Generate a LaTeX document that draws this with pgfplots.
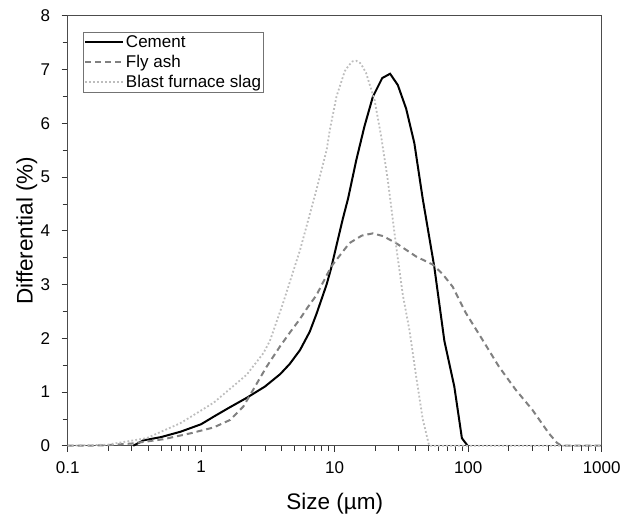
\documentclass[border=0pt]{standalone}
\usepackage{fontspec}
\setmainfont{Liberation Sans}
\usepackage{pgfplots}
\pgfplotsset{compat=1.18}

\definecolor{ashgray}{HTML}{808080}
\definecolor{slaggray}{HTML}{BDBDBD}

\begin{document}
\begin{tikzpicture}
\begin{axis}[
    at={(0,0)}, anchor=south west,
    scale only axis,
    width=534pt, height=430pt,
    xmode=log,
    xmin=0.1, xmax=1000,
    ymin=0, ymax=8,
    xtick={0.1,1,10,100,1000},
    xticklabels={0.1,1,10,100,1000},
    ytick={0,1,2,3,4,5,6,7,8},
    minor ytick={0.5,1.5,2.5,3.5,4.5,5.5,6.5,7.5},
    xtick pos=bottom, ytick pos=left,
    tick align=outside,
    major tick length=6pt, minor tick length=5pt,
    tick style={black!80, line width=0.6pt},
    axis line style={black!70, line width=0.8pt},
    /pgf/number format/assume math mode=true,
    tick label style={font=\fontsize{17}{19}\selectfont},
    xticklabel style={yshift=-6pt},
    yticklabel style={xshift=-8pt},
    label style={font=\fontsize{22.5}{26}\selectfont},
    xlabel={Size (µm)},
    ylabel={Differential (\%)},
    xlabel style={at={(axis description cs:0.5,-0.1349)}, anchor=center},
    ylabel style={at={(axis description cs:-0.0768,0.5)}, anchor=center},
    legend style={at={(axis description cs:0.0292,0.962)}, anchor=north west,
        draw=black!55, font=\fontsize{17}{20}\selectfont,
        inner xsep=1pt, inner ysep=2pt, row sep=3pt,
        nodes={inner sep=1.5pt}},
    legend cell align=left,
    legend image code/.code={\draw[#1] (0pt,0pt) -- (38pt,0pt);},
    clip=false,
]
\addplot[black, line width=2pt] coordinates {
    (0.31,0) (0.37,0.1) (0.5,0.16) (0.7,0.26) (1.0,0.4) (1.24,0.54)
    (1.6,0.7) (2.19,0.89) (3.0,1.1) (3.9,1.33) (4.6,1.52) (5.5,1.78)
    (6.5,2.12) (7.3,2.45) (8.7,3.0) (9.4,3.3) (10.3,3.72) (11.5,4.22)
    (12.6,4.6) (14.5,5.31) (16.7,5.94) (19.3,6.49) (22.7,6.84) (26,6.92)
    (29.7,6.71) (34.3,6.27) (39.5,5.63) (45.6,4.6) (55.7,3.33) (66.3,1.95)
    (78.7,1.1) (89.7,0.14) (99,0)
};
\addlegendentry{Cement}
\addplot[ashgray, line width=2pt, dash pattern=on 6pt off 4pt] coordinates {
    (0.1,0) (0.15,0) (0.2,0.01) (0.3,0.04) (0.52,0.12) (0.83,0.23)
    (1.24,0.34) (1.65,0.48) (2.07,0.73) (2.45,1.04) (3.09,1.47) (3.9,1.85)
    (4.6,2.1) (5.5,2.36) (6.3,2.58) (7.3,2.8) (9.4,3.33) (12.9,3.77)
    (16,3.91) (19.3,3.95) (23,3.9) (28.8,3.77) (40.7,3.52) (54.2,3.37)
    (64,3.2) (76.4,2.96) (96,2.47) (128,1.97) (170,1.47) (227,1.04)
    (302,0.67) (402,0.23) (464,0.05) (500,0) (1000,0)
};
\addlegendentry{Fly ash}
\addplot[slaggray, line width=1.8pt, dash pattern=on 1.8pt off 2.2pt] coordinates {
    (0.1,0) (0.2,0.02) (0.39,0.14) (0.7,0.42) (1.24,0.8) (2.19,1.32)
    (2.92,1.72) (3.27,1.95) (4.1,2.65) (5.5,3.64) (7.3,4.76) (8.7,5.5)
    (9.2,5.88) (10.3,6.49) (11.9,6.97) (12.8,7.08) (13.6,7.15) (14.5,7.16)
    (15.5,7.12) (16.3,7.04) (17.2,6.93) (19.9,6.43) (22.3,5.75) (25,4.94)
    (28.9,3.7) (32.4,2.8) (36.3,2.15) (40.7,1.3) (45.6,0.5) (51,0) (1000,0)
};
\addlegendentry{Blast furnace slag}
\end{axis}
\pgfresetboundingbox
\path[use as bounding box] (-67.7pt,-71pt) rectangle (565.3pt,445.7pt);
\end{tikzpicture}
\end{document}
